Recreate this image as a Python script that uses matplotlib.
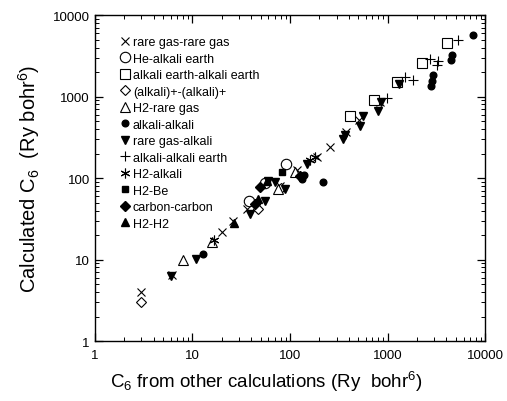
import matplotlib
matplotlib.use("Agg")
import matplotlib.pyplot as plt
from matplotlib.ticker import LogLocator, NullFormatter, FixedLocator, FixedFormatter

# ---- data (x: C6 from other calculations, y: calculated C6) ----
rg_rg_x = [3, 6.2, 20, 26, 36, 79, 118, 189, 257, 377, 510, 840]
rg_rg_y = [4, 6.5, 22, 30, 42, 80, 126, 183, 243, 372, 520, 870]

he_ae_x = [38, 55, 91]
he_ae_y = [53, 88, 150]

ae_ae_x = [412, 727, 1250, 2260, 4070]
ae_ae_y = [586, 920, 1530, 2550, 4500]

alk_ion_x = [3, 47, 80]
alk_ion_y = [3, 42, 75]

h2_rg_x = [8, 16, 75, 112]
h2_rg_y = [10, 16.5, 74, 120]

alk_alk_x = [12.8, 133, 140, 218, 2930, 2850, 2800, 4590, 4500, 7530]
alk_alk_y = [11.7, 98, 108, 90, 1820, 1550, 1330, 3200, 2800, 5640]

rg_alk_x = [6, 11, 39, 55, 59, 70, 89, 149, 350, 365, 522, 560, 800, 860, 1300]
rg_alk_y = [6.3, 10.2, 36.5, 52, 93, 90, 74, 150, 305, 340, 441, 586, 674, 870, 1430]

alk_ae_x = [988, 1510, 1830, 2730, 3300, 3200, 5290]
alk_ae_y = [948, 1720, 1580, 2860, 2750, 2450, 4900]

h2_alk_x = [16.6, 160, 180]
h2_alk_y = [17.5, 165, 180]

h2_be_x = [83]
h2_be_y = [120]

cc_x = [44, 49, 127]
cc_y = [48, 78, 107]

h2_h2_x = [26.7, 47, 58]
h2_h2_y = [28.3, 56, 92]

labels = ["rare gas-rare gas", "He-alkali earth", "alkali earth-alkali earth",
          "(alkali)+-(alkali)+", "H2-rare gas", "alkali-alkali", "rare gas-alkali",
          "alkali-alkali earth", "H2-alkali", "H2-Be", "carbon-carbon", "H2-H2"]

xticks = [1, 10, 100, 1000, 10000]
tick_labels = ["1", "10", "100", "1000", "10000"]

plt.rcParams['font.family'] = ['Liberation Sans', 'DejaVu Sans']
plt.rcParams['mathtext.fontset'] = 'custom'
plt.rcParams['mathtext.rm'] = 'Liberation Sans'
plt.rcParams['mathtext.it'] = 'Liberation Sans'

fig = plt.figure(figsize=(5.07, 4.02), dpi=100)
ax = fig.add_axes([0.187, 0.149, 0.770, 0.811])

series = [
    (rg_rg_x, rg_rg_y, dict(marker='x', color='k', ms=5.5, mew=0.8, ls='none')),
    (he_ae_x, he_ae_y, dict(marker='o', mfc='white', mec='k', ms=7.5, mew=0.8, ls='none')),
    (ae_ae_x, ae_ae_y, dict(marker='s', mfc='white', mec='k', ms=7.5, mew=0.8, ls='none')),
    (alk_ion_x, alk_ion_y, dict(marker='D', mfc='white', mec='k', ms=5.5, mew=0.8, ls='none')),
    (h2_rg_x, h2_rg_y, dict(marker='^', mfc='white', mec='k', ms=7.5, mew=0.8, ls='none')),
    (alk_alk_x, alk_alk_y, dict(marker='o', color='k', ms=4.8, ls='none')),
    (rg_alk_x, rg_alk_y, dict(marker='v', color='k', ms=6, ls='none')),
    (alk_ae_x, alk_ae_y, dict(marker='+', color='k', ms=7, mew=0.8, ls='none')),
    (h2_alk_x, h2_alk_y, dict(marker=(6, 2, 0), color='k', ms=7, mew=0.8, ls='none')),
    (h2_be_x, h2_be_y, dict(marker='s', color='k', ms=5, ls='none')),
    (cc_x, cc_y, dict(marker='D', color='k', ms=5.5, ls='none')),
    (h2_h2_x, h2_h2_y, dict(marker='^', color='k', ms=6, ls='none')),
]

for (xs, ys, kw), lab in zip(series, labels):
    ax.plot(xs, ys, label=lab, **kw)

ax.set_xscale('log')
ax.set_yscale('log')
ax.set_xlim(1, 10000)
ax.set_ylim(1, 10000)

for axis in (ax.xaxis, ax.yaxis):
    axis.set_major_locator(FixedLocator(xticks))
    axis.set_major_formatter(FixedFormatter(tick_labels))
    axis.set_minor_locator(LogLocator(base=10, subs=range(2, 10), numticks=20))
    axis.set_minor_formatter(NullFormatter())

ax.tick_params(which='both', direction='in', top=True, right=True, labelsize=9.5)
ax.tick_params(which='major', length=6, width=0.9)
ax.tick_params(which='minor', length=3, width=0.7)
ax.tick_params(axis='x', pad=6)
for s in ax.spines.values():
    s.set_linewidth(1.0)

ax.set_xlabel(r"C$_6$ from other calculations (Ry  bohr$^6$)", fontsize=13.5, labelpad=7)
ax.xaxis.set_label_coords(0.44, -0.085)
ax.set_ylabel(r"Calculated C$_6$  (Ry bohr$^6$)", fontsize=14.5, labelpad=8)

ax.legend(loc='upper left', frameon=False, fontsize=9,
          handlelength=0.6, handletextpad=0.3, labelspacing=0.36,
          borderaxespad=0.5, bbox_to_anchor=(0.04, 0.97))

fig.savefig("out.png", dpi=100)
